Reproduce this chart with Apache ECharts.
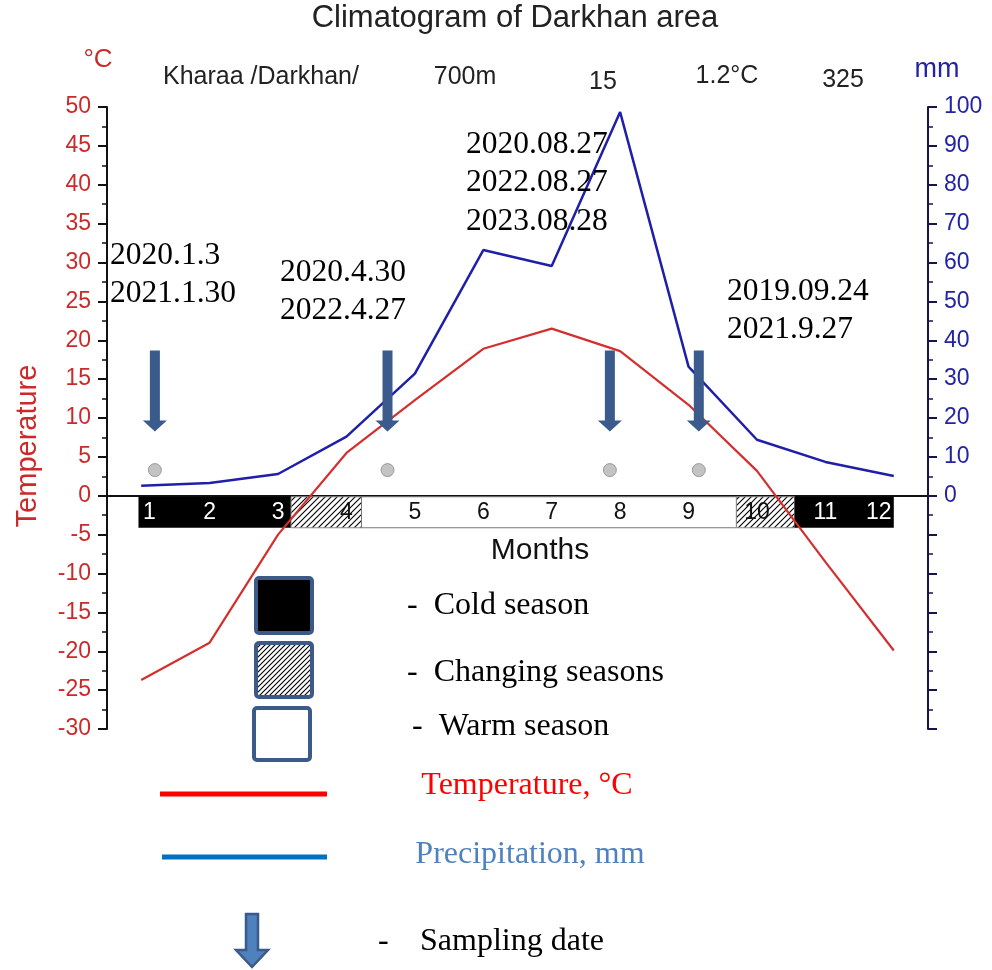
<!DOCTYPE html>
<html>
<head>
<meta charset="utf-8">
<script src="https://cdn.jsdelivr.net/npm/echarts@6/dist/echarts.min.js"></script>
<style>
  html, body { margin: 0; padding: 0; background: #fff; }
  #chart { width: 992px; height: 970px; }
</style>
</head>
<body>
<div id="chart"></div>
<script>
// Monthly climate normals for the Kharaa / Darkhan station
const months = [1, 2, 3, 4, 5, 6, 7, 8, 9, 10, 11, 12];
const temperature = [-23.7, -18.9, -5.0, 5.5, 12.3, 18.9, 21.5, 18.6, 11.7, 3.2, -8.5, -19.9];
const precipitation = [2.6, 3.3, 5.6, 15.2, 31.4, 63.2, 59.1, 98.7, 33.2, 14.4, 8.7, 5.1];

// Axis ranges
const tempRange = { min: -30, max: 50, step: 5 };
const precipRange = { min: -60, max: 100, step: 10 };

// Season band along the month axis
const seasonBounds = [0.96, 3.19, 4.22, 9.7, 10.55, 12.0];
const seasonKinds = ['cold', 'changing', 'warm', 'changing', 'cold'];

// Sampling campaigns (position on the month axis) and their dates
const samplingMonths = [1.2, 4.6, 7.85, 9.15];
const samplingLevel = 3.3;
const samplingDates = [
  ['2020.1.3', '2021.1.30'],
  ['2020.4.30', '2022.4.27'],
  ['2020.08.27', '2022.08.27', '2023.08.28'],
  ['2019.09.24', '2021.9.27']
];

// Station header: name, altitude, years, mean temperature, annual precipitation
const stationInfo = ['Kharaa /Darkhan/', '700m', '15', '1.2°C', '325'];

const SANS = '"Liberation Sans", Arial, sans-serif';
const SERIF = '"Liberation Serif", "Times New Roman", serif';
const FRAME = '#3b5a8a';

function hatchCanvas(step) {
  const c = document.createElement('canvas');
  c.width = c.height = step;
  const g = c.getContext('2d');
  g.fillStyle = '#fff';
  g.fillRect(0, 0, step, step);
  g.strokeStyle = '#000';
  g.lineWidth = 1.1;
  g.beginPath();
  g.moveTo(0, step); g.lineTo(step, 0);
  g.moveTo(-1, 1); g.lineTo(1, -1);
  g.moveTo(step - 1, step + 1); g.lineTo(step + 1, step - 1);
  g.stroke();
  return c;
}
const hatch = hatchCanvas(6);

function seasonAt(m) {
  for (let i = 0; i < seasonKinds.length; i++) {
    if (m >= seasonBounds[i] && m <= seasonBounds[i + 1]) return seasonKinds[i];
  }
  return 'warm';
}

const chart = echarts.init(document.getElementById('chart'), null, { renderer: 'canvas' });

const dateLabelLayout = [
  { x: 110, y: 236 },
  { x: 280, y: 253 },
  { x: 466, y: 125 },
  { x: 727, y: 272 }
];

const graphics = [
  { type: 'text', x: 515, y: 18, style: { text: 'Climatogram of Darkhan area', font: '31px ' + SANS, fill: '#222', align: 'center', verticalAlign: 'middle' } },
  { type: 'text', x: 98, y: 60, style: { text: '°C', font: '26px ' + SANS, fill: '#cc2a2a', align: 'center', verticalAlign: 'middle' } },
  { type: 'text', x: 937, y: 70, style: { text: 'mm', font: '27px ' + SANS, fill: '#2323a6', align: 'center', verticalAlign: 'middle' } },
  { type: 'text', x: 163, y: 77, style: { text: stationInfo[0], font: '25px ' + SANS, fill: '#222', align: 'left', verticalAlign: 'middle' } },
  { type: 'text', x: 465, y: 77, style: { text: stationInfo[1], font: '25px ' + SANS, fill: '#222', align: 'center', verticalAlign: 'middle' } },
  { type: 'text', x: 603, y: 82, style: { text: stationInfo[2], font: '25px ' + SANS, fill: '#222', align: 'center', verticalAlign: 'middle' } },
  { type: 'text', x: 727, y: 76, style: { text: stationInfo[3], font: '25px ' + SANS, fill: '#222', align: 'center', verticalAlign: 'middle' } },
  { type: 'text', x: 843, y: 80, style: { text: stationInfo[4], font: '25px ' + SANS, fill: '#222', align: 'center', verticalAlign: 'middle' } },
  { type: 'text', x: 28, y: 446, rotation: Math.PI / 2, style: { text: 'Temperature', font: '29px ' + SANS, fill: '#cc2a2a', align: 'center', verticalAlign: 'middle' } },
  { type: 'text', x: 540, y: 551, style: { text: 'Months', font: '30px ' + SANS, fill: '#111', align: 'center', verticalAlign: 'middle' } },

  // Season key
  { type: 'rect', shape: { x: 256, y: 578, width: 56, height: 55, r: 3 }, style: { fill: '#000', stroke: FRAME, lineWidth: 4 } },
  { type: 'rect', shape: { x: 256, y: 643, width: 56, height: 54, r: 3 }, style: { fill: { image: hatchCanvas(5), repeat: 'repeat' }, stroke: FRAME, lineWidth: 4 } },
  { type: 'rect', shape: { x: 254, y: 708, width: 56, height: 52, r: 3 }, style: { fill: '#fff', stroke: FRAME, lineWidth: 4 } },
  { type: 'text', x: 407, y: 606, style: { text: '-  Cold season', font: '32px ' + SERIF, fill: '#000', align: 'left', verticalAlign: 'middle' } },
  { type: 'text', x: 407, y: 673, style: { text: '-  Changing seasons', font: '32px ' + SERIF, fill: '#000', align: 'left', verticalAlign: 'middle' } },
  { type: 'text', x: 412, y: 727, style: { text: '-  Warm season', font: '32px ' + SERIF, fill: '#000', align: 'left', verticalAlign: 'middle' } },

  // Line key
  { type: 'line', shape: { x1: 160, y1: 794, x2: 327, y2: 794 }, style: { stroke: '#ff0000', lineWidth: 5 } },
  { type: 'text', x: 527, y: 786, style: { text: 'Temperature, °C', font: '32px ' + SERIF, fill: '#ff0000', align: 'center', verticalAlign: 'middle' } },
  { type: 'line', shape: { x1: 162, y1: 857, x2: 327, y2: 857 }, style: { stroke: '#0070c0', lineWidth: 5 } },
  { type: 'text', x: 530, y: 855, style: { text: 'Precipitation, mm', font: '32px ' + SERIF, fill: '#4f81bd', align: 'center', verticalAlign: 'middle' } },

  // Sampling key
  { type: 'polygon', shape: { points: [[246, 914], [258, 914], [258, 950], [268, 950], [252, 967], [236, 950], [246, 950]] }, style: { fill: '#4f81bd', stroke: FRAME, lineWidth: 2.5 } },
  { type: 'text', x: 378, y: 942, style: { text: '-', font: '32px ' + SERIF, fill: '#000', align: 'left', verticalAlign: 'middle' } },
  { type: 'text', x: 420, y: 942, style: { text: 'Sampling date', font: '32px ' + SERIF, fill: '#000', align: 'left', verticalAlign: 'middle' } }
];

samplingDates.forEach((lines, i) => {
  graphics.push({
    type: 'text', x: dateLabelLayout[i].x, y: dateLabelLayout[i].y, z: 10,
    style: { text: lines.join('\n'), font: '31.5px ' + SERIF, lineHeight: 38.5, fill: '#000', align: 'left', verticalAlign: 'top' }
  });
});

const option = {
  animation: false,
  backgroundColor: '#fff',
  grid: { left: 107, right: 64, top: 107, bottom: 241, containLabel: false },
  xAxis: {
    type: 'value', min: 0.5, max: 12.5,
    axisLine: { show: true, onZero: true, lineStyle: { color: '#111', width: 2 } },
    axisTick: { show: false }, axisLabel: { show: false }, splitLine: { show: false }
  },
  yAxis: [
    {
      type: 'value', position: 'left', min: tempRange.min, max: tempRange.max, interval: tempRange.step,
      axisLine: { show: true, lineStyle: { color: '#111', width: 2 } },
      axisTick: { show: true, length: 9, lineStyle: { color: '#111', width: 2 } },
      minorTick: { show: true, splitNumber: 2, length: 5, lineStyle: { color: '#111', width: 1.5 } },
      axisLabel: { color: '#cc2a2a', fontSize: 23, fontFamily: SANS, margin: 16 },
      splitLine: { show: false }
    },
    {
      type: 'value', position: 'right', min: precipRange.min, max: precipRange.max, interval: precipRange.step,
      axisLine: { show: true, lineStyle: { color: '#15154a', width: 2 } },
      axisTick: { show: true, length: 9, lineStyle: { color: '#15154a', width: 2 } },
      minorTick: { show: true, splitNumber: 2, length: 5, lineStyle: { color: '#15154a', width: 1.5 } },
      axisLabel: { color: '#2323a6', fontSize: 23, fontFamily: SANS, margin: 16, formatter: v => (v >= 0 ? String(v) : '') },
      splitLine: { show: false }
    }
  ],
  series: [
    {
      name: 'seasons', type: 'custom', xAxisIndex: 0, yAxisIndex: 0, z: 1, silent: true,
      data: seasonKinds.map((k, i) => [seasonBounds[i], seasonBounds[i + 1], i]),
      renderItem(params, api) {
        const a = api.coord([api.value(0), 0]);
        const b = api.coord([api.value(1), 0]);
        const kind = seasonKinds[api.value(2)];
        let style;
        if (kind === 'cold') style = { fill: '#000' };
        else if (kind === 'changing') style = { fill: { image: hatch, repeat: 'repeat' }, stroke: '#888', lineWidth: 1 };
        else style = { fill: '#fff', stroke: '#777', lineWidth: 1 };
        return { type: 'rect', shape: { x: a[0], y: a[1] + 1, width: b[0] - a[0], height: 31 }, style };
      }
    },
    {
      name: 'monthLabels', type: 'custom', xAxisIndex: 0, yAxisIndex: 0, z: 2, silent: true,
      data: months.map(m => [m]),
      renderItem(params, api) {
        const m = api.value(0);
        const p = api.coord([m, 0]);
        const left = api.coord([seasonBounds[0], 0])[0];
        const right = api.coord([seasonBounds[seasonBounds.length - 1], 0])[0];
        const half = m >= 10 ? 13 : 7;
        const x = Math.min(Math.max(p[0], left + half + 4), right - half - 2);
        const kind = seasonAt(m);
        return {
          type: 'text', x, y: p[1] + 17,
          style: { text: String(m), font: '23px ' + SANS, fill: kind === 'cold' ? '#fff' : '#111', align: 'center', verticalAlign: 'middle' }
        };
      }
    },
    {
      name: 'Precipitation, mm', type: 'line', yAxisIndex: 1, z: 3,
      data: months.map((m, i) => [m, precipitation[i]]),
      symbol: 'none', lineStyle: { color: '#1f1fa8', width: 2.5 }
    },
    {
      name: 'Temperature, °C', type: 'line', yAxisIndex: 0, z: 4,
      data: months.map((m, i) => [m, temperature[i]]),
      symbol: 'none', lineStyle: { color: '#d42f2f', width: 2.2 }
    },
    {
      name: 'sampling', type: 'scatter', yAxisIndex: 0, z: 5, silent: true,
      data: samplingMonths.map(m => [m, samplingLevel]),
      symbol: 'circle', symbolSize: 13,
      itemStyle: { color: '#b4b4b4', borderColor: '#8a8a8a', borderWidth: 1 }
    },
    {
      name: 'samplingArrows', type: 'scatter', yAxisIndex: 0, z: 6, silent: true,
      data: samplingMonths.map(m => [m, samplingLevel]),
      symbol: 'path://M7,0L17,0L17,70L24,70L12,81L0,70L7,70Z',
      symbolSize: [24, 81], symbolOffset: [0, -79], symbolKeepAspect: false,
      itemStyle: { color: '#3b5b8c', opacity: 1 }
    }
  ],
  graphic: { elements: graphics }
};

chart.setOption(option);
</script>
</body>
</html>
